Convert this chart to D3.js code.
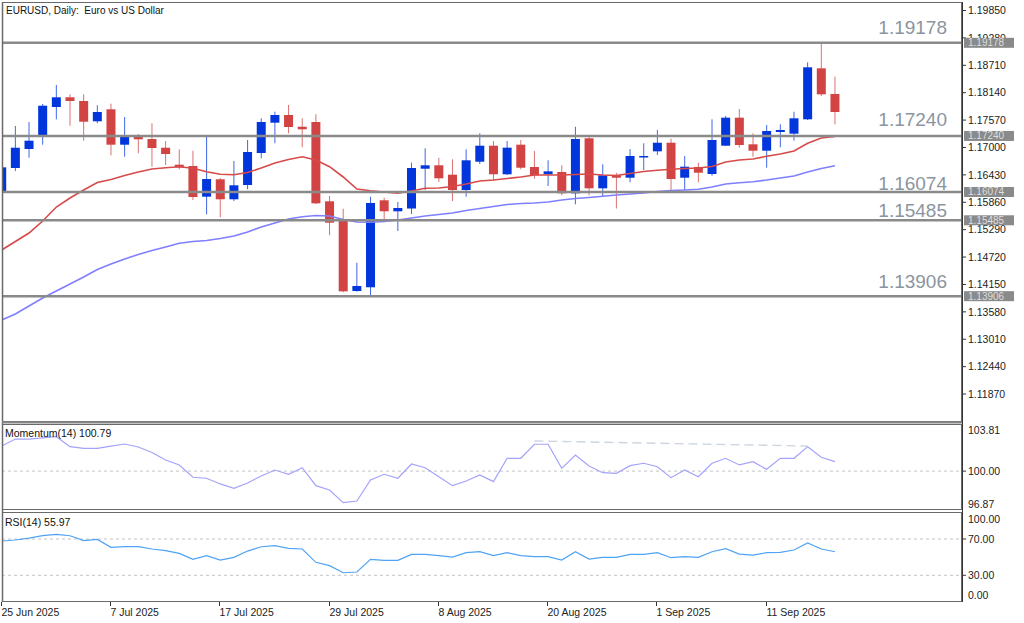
<!DOCTYPE html>
<html><head><meta charset="utf-8">
<script src="https://cdn.jsdelivr.net/npm/d3@7"></script>
<style>
body{margin:0;background:#fff;}
svg{display:block;}
text{font-family:"Liberation Sans",Arial,sans-serif;}
</style>
</head><body>
<svg id="c" width="1024" height="623"></svg>
<script>
// ---------------- DATA ----------------
const dates = ["2025-06-25","2025-06-26","2025-06-27","2025-06-30",
 "2025-07-01","2025-07-02","2025-07-03","2025-07-04","2025-07-07","2025-07-08","2025-07-09","2025-07-10","2025-07-11",
 "2025-07-14","2025-07-15","2025-07-16","2025-07-17","2025-07-18","2025-07-21","2025-07-22","2025-07-23","2025-07-24","2025-07-25",
 "2025-07-28","2025-07-29","2025-07-30","2025-07-31",
 "2025-08-01","2025-08-04","2025-08-05","2025-08-06","2025-08-07","2025-08-08","2025-08-11","2025-08-12","2025-08-13","2025-08-14","2025-08-15",
 "2025-08-18","2025-08-19","2025-08-20","2025-08-21","2025-08-22","2025-08-25","2025-08-26","2025-08-27","2025-08-28","2025-08-29",
 "2025-09-01","2025-09-02","2025-09-03","2025-09-04","2025-09-05","2025-09-08","2025-09-09","2025-09-10","2025-09-11","2025-09-12",
 "2025-09-15","2025-09-16","2025-09-17","2025-09-18"];

const open  = [1.16094,1.16573,1.16968,1.17260,1.17842,1.18044,1.17967,1.17545,1.17794,1.17058,
 1.17218,1.17176,1.16995,1.16642,1.16615,1.15976,1.16338,1.15922,1.16219,1.16885,
 1.17516,1.17676,1.17432,1.17530,1.15880,1.15470,1.14014,1.14091,1.15901,1.15672,
 1.15730,1.16558,1.16629,1.16434,1.16115,1.16704,1.17037,1.16442,1.17058,1.16594,
 1.16442,1.16490,1.16046,1.17191,1.16150,1.16421,1.16371,1.16796,1.16920,1.17099,
 1.16371,1.16594,1.16448,1.17037,1.17620,1.17066,1.16933,1.17322,1.17287,1.17586,
 1.18647,1.18113];
const high  = [1.16635,1.17447,1.17530,1.17905,1.18300,1.18106,1.18106,1.17878,1.17911,1.17634,
 1.17280,1.17503,1.17135,1.16962,1.16933,1.17224,1.16365,1.16719,1.17156,1.17607,
 1.17744,1.17884,1.17607,1.17690,1.15990,1.15726,1.14602,1.15976,1.15955,1.15866,
 1.16683,1.16983,1.16787,1.16754,1.16962,1.17295,1.17135,1.17135,1.17156,1.16927,
 1.16733,1.16629,1.17432,1.17224,1.16650,1.16475,1.16968,1.17087,1.17364,1.17183,
 1.16823,1.16683,1.17586,1.17655,1.17800,1.17295,1.17468,1.17482,1.17744,1.18772,
 1.19178,1.18473];
const low   = [1.16053,1.16510,1.16787,1.17058,1.17586,1.17453,1.17141,1.17503,1.16837,1.16808,
 1.16879,1.16600,1.16635,1.16546,1.15907,1.15610,1.15547,1.15886,1.16130,1.16775,
 1.17087,1.17295,1.17004,1.15824,1.15173,1.13987,1.13999,1.13930,1.15491,1.15262,
 1.15616,1.16115,1.16282,1.15886,1.15976,1.16656,1.16309,1.16427,1.16546,1.16350,
 1.16198,1.16005,1.15818,1.16005,1.15990,1.15730,1.16275,1.16531,1.16843,1.16115,
 1.16115,1.16275,1.16413,1.17031,1.16996,1.16808,1.16579,1.17004,1.17141,1.17572,
 1.18071,1.17482];
const close = [1.16587,1.16995,1.17141,1.17869,1.18044,1.17967,1.17536,1.17738,1.17058,1.17218,
 1.17170,1.16989,1.16864,1.16587,1.15970,1.16344,1.15922,1.16213,1.16906,1.17530,
 1.17676,1.17426,1.17378,1.15838,1.15435,1.14007,1.14118,1.15845,1.15672,1.15741,
 1.16573,1.16629,1.16359,1.16115,1.16733,1.17037,1.16442,1.16996,1.16579,1.16421,
 1.16504,1.16046,1.17176,1.16150,1.16421,1.16371,1.16823,1.16823,1.17099,1.16344,
 1.16600,1.16475,1.17156,1.17620,1.17051,1.16933,1.17343,1.17364,1.17607,1.18668,
 1.18106,1.17738];

const maFast = [1.14867,1.15044,1.15220,1.15470,1.15761,1.15949,1.16115,1.16271,1.16334,1.16417,
 1.16490,1.16552,1.16579,1.16600,1.16567,1.16496,1.16442,1.16434,1.16479,1.16573,
 1.16677,1.16750,1.16808,1.16739,1.16600,1.16386,1.16136,1.16099,1.16074,1.16047,
 1.16094,1.16151,1.16157,1.16188,1.16240,1.16302,1.16323,1.16354,1.16386,1.16427,
 1.16427,1.16427,1.16438,1.16448,1.16427,1.16417,1.16458,1.16500,1.16525,1.16546,
 1.16562,1.16573,1.16604,1.16698,1.16739,1.16760,1.16816,1.16864,1.16927,1.17087,
 1.17197,1.17228];
const maSlow = [1.13410,1.13535,1.13702,1.13868,1.14014,1.14159,1.14305,1.14461,1.14575,1.14680,
 1.14773,1.14856,1.14929,1.15006,1.15044,1.15064,1.15106,1.15158,1.15241,1.15345,
 1.15429,1.15512,1.15560,1.15585,1.15574,1.15501,1.15449,1.15443,1.15460,1.15491,
 1.15533,1.15574,1.15605,1.15637,1.15689,1.15730,1.15772,1.15813,1.15834,1.15845,
 1.15866,1.15907,1.15938,1.15959,1.15984,1.16011,1.16032,1.16053,1.16084,1.16105,
 1.16115,1.16130,1.16178,1.16240,1.16267,1.16288,1.16323,1.16365,1.16407,1.16490,
 1.16562,1.16621];

const momentum = [102.07,102.65,102.65,102.74,102.84,102.02,101.88,101.88,102.07,102.24,
 101.99,101.54,100.92,100.51,99.49,99.41,98.94,98.58,99.02,99.60,
 100.09,99.74,100.28,98.80,98.44,97.39,97.53,99.27,99.74,99.41,
 100.59,100.28,99.54,98.80,99.18,99.68,99.13,101.06,101.06,102.22,
 102.22,100.23,101.33,100.42,99.87,99.82,100.45,100.65,100.36,99.46,
 100.09,99.54,100.65,101.06,100.51,100.78,100.15,101.06,101.06,102.02,
 101.14,100.79];
const momTrend = [{i:39, v:102.49},{i:59, v:102.07}];

const rsi = [67.8,68.9,70.9,73.8,75.2,73.6,68.3,69.6,60.8,61.5,
 61.5,59.0,57.1,54.2,47.6,51.6,46.8,49.8,56.7,61.5,
 62.6,59.7,59.0,44.3,40.6,32.8,33.6,47.6,46.5,46.5,
 53.1,53.1,51.6,50.1,54.9,56.0,51.6,54.9,51.6,50.5,
 50.5,46.8,56.0,47.9,49.8,49.8,53.1,53.1,54.9,49.4,
 50.5,49.8,56.0,59.3,53.4,52.3,54.9,55.3,57.9,65.6,
 59.0,55.97];

const priceTicks = ["1.19850","1.19280","1.18710","1.18140","1.17570","1.17000","1.16430","1.15860",
 "1.15290","1.14720","1.14150","1.13580","1.13010","1.12440","1.11870"];
const levels = [1.19178,1.17240,1.16074,1.15485,1.13906];
const levelTextAnchors = [1.19371,1.17447,1.16115,1.15559,1.14070];
const dateTickIdx = [0,8,16,24,32,40,48,56];
const dateTickLabels = ["25 Jun 2025","7 Jul 2025","17 Jul 2025","29 Jul 2025","8 Aug 2025","20 Aug 2025","1 Sep 2025","11 Sep 2025"];
const momTicks = ["103.81","100.00","96.87"];
const rsiTicks = ["100.00","70.00","30.00","0.00"];
const title = "EURUSD, Daily:  Euro vs US Dollar";

// ---------------- STYLE ----------------
const BULL = "#0036dc", BEAR = "#d24343";
const FRAME = "#6a6a6a";
const svg = d3.select("#c");
const L = 2, R = 962;
const main = {t:2, b:422}, mom = {t:424, b:510}, rs = {t:512, b:602};

const x = d3.scaleLinear().domain([0, dates.length-1]).range([1.7, 1.7 + 13.66*(dates.length-1)]);
const y = d3.scaleLinear().domain([1.11288, 1.20027]).range([main.b, main.t]);
const ym = d3.scaleLinear().domain([96.87, 103.81]).range([509, 425]);
const yr = d3.scaleLinear().domain([0, 100]).range([602.5, 511.8]);
const idx = d3.range(dates.length);

const defs = svg.append("defs");
[["cm",main],["cmo",mom],["cr",rs]].forEach(([id,p])=>{
  defs.append("clipPath").attr("id",id).append("rect")
    .attr("x",L).attr("y",p.t).attr("width",R-L).attr("height",p.b-p.t);
});

// ---------- MAIN PANEL ----------
const gm = svg.append("g").attr("clip-path","url(#cm)");
gm.selectAll("line.wick").data(idx).join("line").attr("class","wick")
  .attr("x1",i=>x(i)).attr("x2",i=>x(i))
  .attr("y1",i=>y(high[i])).attr("y2",i=>y(low[i]))
  .attr("stroke",i=>close[i]>=open[i]?BULL:BEAR).attr("stroke-width",1).attr("opacity",0.75);
gm.selectAll("rect.body").data(idx).join("rect").attr("class","body")
  .attr("x",i=>x(i)-4.5).attr("width",9)
  .attr("y",i=>y(Math.max(open[i],close[i])))
  .attr("height",i=>Math.max(1.5, Math.abs(y(open[i])-y(close[i]))))
  .attr("fill",i=>close[i]>=open[i]?BULL:BEAR);

const lineP = d3.line().x((d,i)=>x(i)).y(d=>y(d));
gm.append("path").datum(maSlow).attr("d",lineP).attr("fill","none").attr("stroke","#7f7fff").attr("stroke-width",1.6);
gm.append("path").datum(maFast).attr("d",lineP).attr("fill","none").attr("stroke","#d84a4a").attr("stroke-width",1.6);

gm.selectAll("line.lvl").data(levels).join("line").attr("class","lvl")
  .attr("x1",L).attr("x2",R).attr("y1",d=>y(d)).attr("y2",d=>y(d))
  .attr("stroke","#8a8a8a").attr("stroke-width",2.6);

gm.selectAll("text.lvlt").data(levels).join("text").attr("class","lvlt")
  .attr("x",947).attr("y",(d,i)=>y(levelTextAnchors[i]))
  .attr("text-anchor","end").attr("font-size",19).attr("fill","#8b95a1")
  .text(d=>d.toFixed(5));

svg.append("text").attr("x",6).attr("y",14).attr("font-size",10).attr("fill","#111")
  .style("white-space","pre").text(title);

// ---------- MOMENTUM ----------
const gmo = svg.append("g").attr("clip-path","url(#cmo)");
gmo.append("line").attr("x1",L).attr("x2",R).attr("y1",ym(100)).attr("y2",ym(100))
  .attr("stroke","#c4c4c4").attr("stroke-dasharray","3,3");
gmo.append("path").datum(momTrend)
  .attr("d",d3.line().x(d=>x(d.i)).y(d=>ym(d.v)))
  .attr("fill","none").attr("stroke","#cdd6e0").attr("stroke-width",1.4).attr("stroke-dasharray","9,5");
gmo.append("path").datum(momentum)
  .attr("d",d3.line().x((d,i)=>x(i)).y(d=>ym(d)))
  .attr("fill","none").attr("stroke","#a3a3fb").attr("stroke-width",1.2);
svg.append("text").attr("x",5).attr("y",437).attr("font-size",10.5).attr("fill","#111")
  .text("Momentum(14) " + momentum[momentum.length-1].toFixed(2));

// ---------- RSI ----------
const gr = svg.append("g").attr("clip-path","url(#cr)");
[70,30].forEach(v=>{
  gr.append("line").attr("x1",L).attr("x2",R).attr("y1",yr(v)).attr("y2",yr(v))
    .attr("stroke","#c4c4c4").attr("stroke-dasharray","3,3");
});
gr.append("path").datum(rsi)
  .attr("d",d3.line().x((d,i)=>x(i)).y(d=>yr(d)))
  .attr("fill","none").attr("stroke","#4fa3f5").attr("stroke-width",1.2);
svg.append("text").attr("x",5).attr("y",526).attr("font-size",10.5).attr("fill","#111")
  .text("RSI(14) " + rsi[rsi.length-1].toFixed(2));

// ---------- FRAMES ----------
[main,mom,rs].forEach(p=>{
  svg.append("rect").attr("x",L+0.5).attr("y",p.t+0.5).attr("width",R-L-1).attr("height",p.b-p.t-1)
    .attr("fill","none").attr("stroke",FRAME).attr("stroke-width",1);
});
svg.append("line").attr("x1",L+0.5).attr("x2",L+0.5).attr("y1",main.t).attr("y2",rs.b)
  .attr("stroke",FRAME).attr("stroke-width",1.5);
svg.append("line").attr("x1",L).attr("x2",R).attr("y1",main.b+0.5).attr("y2",main.b+0.5)
  .attr("stroke","#8a8a8a").attr("stroke-width",2);

// ---------- PRICE AXIS ----------
const ax = svg.append("g");
priceTicks.forEach(t=>{
  const yy = y(+t);
  ax.append("line").attr("x1",R).attr("x2",R+4).attr("y1",yy).attr("y2",yy).attr("stroke","#333");
  ax.append("text").attr("x",R+6).attr("y",yy).attr("dy","0.35em").attr("font-size",10.5).attr("fill","#222").text(t);
});
levels.forEach(l=>{
  const yy = y(l);
  ax.append("rect").attr("x",R+2).attr("y",yy-5).attr("width",50).attr("height",10).attr("fill","#8a8a8a");
  ax.append("text").attr("x",R+6).attr("y",yy).attr("dy","0.35em").attr("font-size",10).attr("fill","#dedede").text(l.toFixed(5));
});

// momentum axis
const momPos = [{t:momTicks[0], y:mom.t+6, tick:false},{t:momTicks[1], y:ym(100), tick:true},{t:momTicks[2], y:mom.b-6, tick:false}];
momPos.forEach(d=>{
  if(d.tick) ax.append("line").attr("x1",R).attr("x2",R+4).attr("y1",d.y).attr("y2",d.y).attr("stroke","#333");
  ax.append("text").attr("x",R+6).attr("y",d.y).attr("dy","0.35em").attr("font-size",10.5).attr("fill","#222").text(d.t);
});
const rsiPos = [{t:rsiTicks[0], y:rs.t+7, tick:false},{t:rsiTicks[1], y:yr(70), tick:true},{t:rsiTicks[2], y:yr(30), tick:true},{t:rsiTicks[3], y:rs.b-6.5, tick:false}];
rsiPos.forEach(d=>{
  if(d.tick) ax.append("line").attr("x1",R).attr("x2",R+4).attr("y1",d.y).attr("y2",d.y).attr("stroke","#333");
  ax.append("text").attr("x",R+6).attr("y",d.y).attr("dy","0.35em").attr("font-size",10.5).attr("fill","#222").text(d.t);
});
ax.append("line").attr("x1",R+0.5).attr("x2",R+0.5).attr("y1",main.t).attr("y2",rs.b).attr("stroke","#333").attr("stroke-width",1);

// ---------- DATE AXIS ----------
dateTickIdx.forEach((di,k)=>{
  const xx = Math.round(x(di))-0.5;
  ax.append("line").attr("x1",xx).attr("x2",xx).attr("y1",rs.b).attr("y2",rs.b+4).attr("stroke","#333");
  ax.append("text").attr("x",xx).attr("y",616).attr("font-size",10.5).attr("fill","#222").text(dateTickLabels[k]);
});
</script>
</body></html>
